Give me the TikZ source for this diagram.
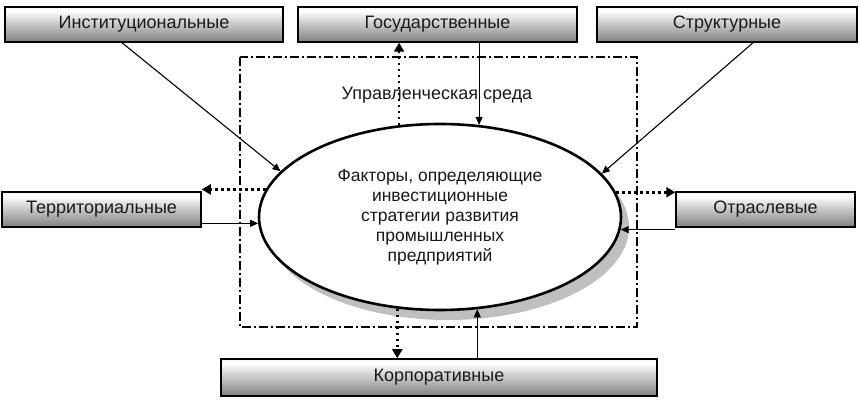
\documentclass[tikz,border=0pt]{standalone}
\usepackage{fontspec}
\setmainfont{Liberation Sans}
\usetikzlibrary{arrows.meta,shapes.geometric,shadows}
\pgfdeclareverticalshading{boxshade}{100bp}{color(0bp)=(black!68); color(25bp)=(black!50); color(70bp)=(white); color(86bp)=(white!88!black); color(100bp)=(black!35)}
\begin{document}
\begin{tikzpicture}[x=1pt,y=-1pt,
  factor/.style={draw=black, line width=1.5pt, shading=boxshade, inner sep=0pt,
    font=\fontsize{18}{20}\selectfont, text=black!90},
  solidarr/.style={line width=1.1pt, -{Triangle[length=8pt,width=7pt]}},
  dotarr/.style={line width=2.6pt, dash pattern=on 2.6pt off 3.4pt, -{Triangle[length=9pt,width=10pt]}},
  envbox/.style={line width=1.4pt, dash pattern=on 9pt off 3pt on 2pt off 3pt}]
\useasboundingbox (0,0) rectangle (860,403);
% management environment
\draw[envbox] (240,57) rectangle (637,327);
\node[font=\fontsize{18}{20}\selectfont, text=black!90] (env) at (437,95) {Управленческая среда};
% central ellipse
\node[ellipse, draw=black, line width=2.6pt, fill=white, inner sep=0pt,
  minimum width=362pt, minimum height=186pt,
  drop shadow={shadow xshift=8pt, shadow yshift=-10pt, fill=black!25, opacity=1},
  align=center, font=\fontsize{17.5}{20}\selectfont, text=black!90] (ell) at (440,217)
  {Факторы, определяющие\\инвестиционные\\стратегии развития\\промышленных\\предприятий};
% boxes
\node[factor, minimum width=278pt, minimum height=35pt] (inst) at (144,24.5) {Институциональные};
\node[factor, minimum width=279pt, minimum height=35pt] (gov) at (437.5,24.5) {Государственные};
\node[factor, minimum width=260pt, minimum height=35pt] (str) at (727,24.5) {Структурные};
\node[factor, minimum width=199pt, minimum height=35pt] (ter) at (101.5,209.5) {Территориальные};
\node[factor, minimum width=179pt, minimum height=35pt] (otr) at (765.5,209.5) {Отраслевые};
\node[factor, minimum width=436pt, minimum height=37pt] (kor) at (439,377.5) {Корпоративные};
% connectors
\draw[solidarr] ([xshift=-22pt]inst.south) -- (ell.164.5);
\draw[solidarr] ([xshift=26pt]str.south) -- (ell.15.5);
\draw[solidarr] (ell.67.5 |- gov.south) -- (ell.67.5);
\draw[dotarr] (ell.114.7) -- (ell.114.7 |- gov.south);
\draw[dotarr] (ell.171.9) -- (ell.171.9 -| ter.east);
\draw[solidarr] (ter.east |- ell.182.8) -- (ell.182.8);
\draw[dotarr] (ell.8.1) -- (ell.8.1 -| otr.west);
\draw[solidarr] (otr.west |- ell.356.9) -- (ell.356.9);
\draw[dotarr] (ell.245.3) -- (ell.245.3 |- kor.north);
\draw[solidarr] (ell.292.5 |- kor.north) -- (ell.292.5);
\end{tikzpicture}
\end{document}
